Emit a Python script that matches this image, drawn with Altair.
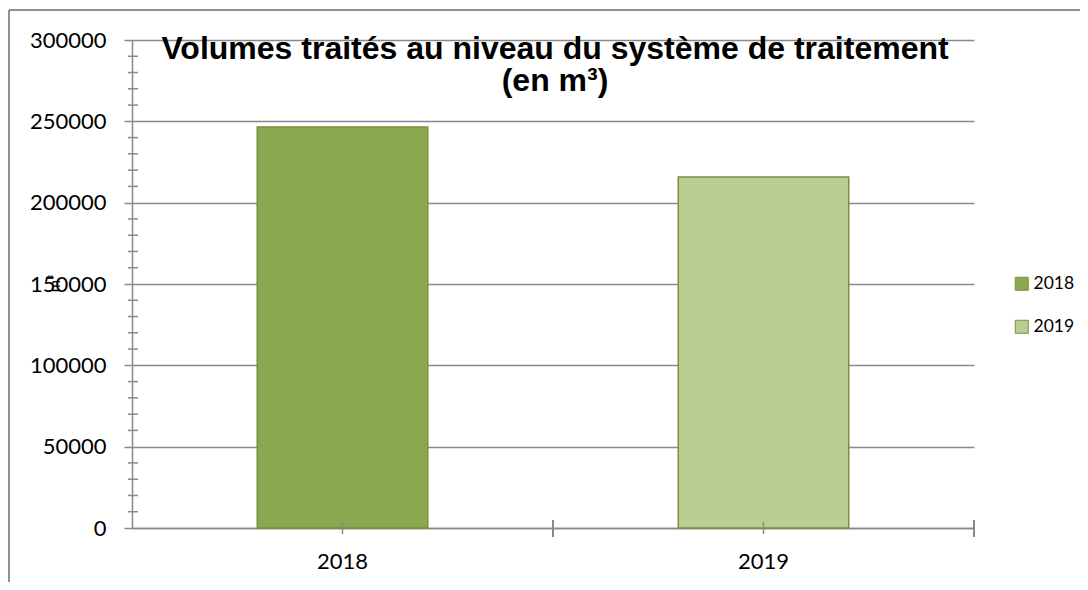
import altair as alt
import pandas as pd

years = ["2018", "2019"]
volumes = [246500, 215800]
bar_colors = ["#8BA74F", "#BACE94"]
y_major = [0, 50000, 100000, 150000, 200000, 250000, 300000]
y_minor = [v for v in range(10000, 300000, 10000) if v % 50000 != 0]

df = pd.DataFrame({"year": years, "volume": volumes})
minor_df = pd.DataFrame({"v": y_minor})

GRAY = "#898989"
LBL = "Lato"

xscale = alt.Scale(paddingInner=0, paddingOuter=0)
yscale = alt.Scale(domain=[0, 300000], nice=False)

bars = alt.Chart(df).mark_bar(
    width={"band": 0.405}, stroke="#76923C", strokeWidth=1.5
).encode(
    x=alt.X("year:N", scale=xscale, title=None,
            axis=alt.Axis(labelAngle=0, ticks=False, labelFont=LBL, labelFontSize=22,
                          labelColor="black", labelPadding=23, domainColor=GRAY,
                          domainWidth=1.5, grid=False)),
    y=alt.Y("volume:Q", scale=yscale, title="m³",
            axis=alt.Axis(values=y_major, grid=True, gridColor=GRAY, gridWidth=1.5,
                          domainColor=GRAY, domainWidth=1.5, tickColor=GRAY,
                          tickWidth=1.5, tickSize=8, labelFont=LBL, labelFontSize=22,
                          labelColor="black", labelPadding=18, format="d",
                          titleFont=LBL, titleFontSize=15, titleFontWeight="normal",
                          titleColor="black", titleX=-70, titleY=243)),
    color=alt.Color("year:N", scale=alt.Scale(domain=years, range=bar_colors),
                    legend=alt.Legend(title=None, orient="none", legendX=881, legendY=235,
                                      symbolType="square", symbolSize=169,
                                      symbolStrokeColor="#76923C", symbolStrokeWidth=1,
                                      labelFont=LBL, labelFontSize=17.5, labelColor="black",
                                      rowPadding=24, labelOffset=3)),
)

minor_ticks = alt.Chart(minor_df).mark_rule(color=GRAY, strokeWidth=1.5).encode(
    y=alt.Y("v:Q", scale=yscale), x=alt.value(-4), x2=alt.value(6)
)

center_ticks = alt.Chart(df).mark_rule(color=GRAY, strokeWidth=1.5).encode(
    x=alt.X("year:N", scale=xscale), y=alt.value(482), y2=alt.value(494)
)
edge_ticks = alt.Chart(df).mark_rule(color=GRAY, strokeWidth=2).encode(
    x=alt.X("year:N", scale=xscale, bandPosition=1), y=alt.value(480), y2=alt.value(497)
)

border_left = alt.Chart(df).mark_rule(color=GRAY, strokeWidth=1.5).encode(
    x=alt.value(-123), y=alt.value(-30), y2=alt.value(600)
)
border_top = alt.Chart(df).mark_rule(color=GRAY, strokeWidth=1.5).encode(
    x=alt.value(-123), x2=alt.value(1000), y=alt.value(-30)
)

chart = alt.layer(
    border_left, border_top, bars, minor_ticks, center_ticks, edge_ticks
).properties(
    width=842, height=488,
    title=alt.TitleParams(
        text=["Volumes traités au niveau du système de traitement", "(en m³)"],
        font="Liberation Sans", fontSize=32, fontWeight="bold", color="black",
        anchor="middle", lineHeight=32, baseline="top", offset=0, dy=89, dx=2,
    ),
    autosize=alt.AutoSizeParams(type="none"),
    padding={"left": 124, "top": 32, "right": 106, "bottom": 54},
    background="white",
).configure_view(stroke=None).resolve_scale(x="shared", y="shared")

chart.save("out.html", embed_options={"renderer": "svg", "actions": False})
